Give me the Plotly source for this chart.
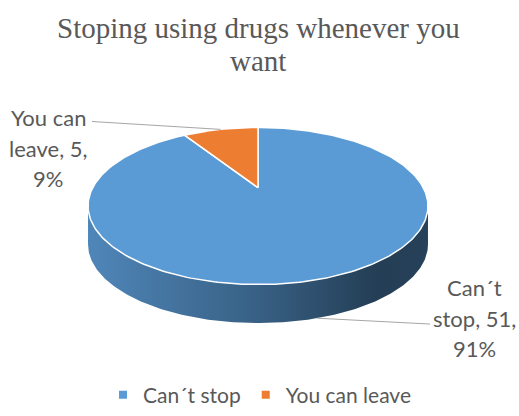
import numpy as np
import textwrap
import plotly.graph_objects as go

# ---- data ----
labels = ["Can´t stop", "You can leave"]
values = [51, 5]
colors = ["#5B9BD5", "#ED7D31"]
title_lines = ["Stoping using drugs whenever you", "want"]

# ---- geometry (pixel space, y down) ----
W, H = 519, 416
CX, CY = 258, 208          # middle of projected top ellipse
K, A, B, C = 0.2327, 165.3, 79.38, 18.0   # perspective projection params
DEPTH = 39
TXT = "#595959"

def proj(t, drop=0.0):
    u, v = np.sin(t), np.cos(t)
    d = 1 + K * v
    return CX + A * u / d, CY - (B * v + C) / d + drop

def shade(hexcol, f):
    r, g, b = int(hexcol[1:3], 16), int(hexcol[3:5], 16), int(hexcol[5:7], 16)
    return f"rgb({int(r*f)},{int(g*f)},{int(b*f)})"

total = sum(values)
fr = np.array(values) / total
cum = np.concatenate([[0], np.cumsum(fr)])

fig = go.Figure()

# side wall (front visible part)
vis0, vis1 = np.pi / 2 + np.arcsin(K), 1.5 * np.pi - np.arcsin(K)
for i in range(len(values)):
    t0, t1 = 2 * np.pi * cum[i], 2 * np.pi * cum[i + 1]
    a0, a1 = max(t0, vis0), min(t1, vis1)
    if a1 <= a0:
        continue
    ts = np.linspace(a0, a1, 200)
    xt, yt = proj(ts)
    xb, yb = proj(ts[::-1], DEPTH)
    fig.add_trace(go.Scatter(
        x=np.concatenate([xt, xb, xt[:1]]), y=np.concatenate([yt, yb, yt[:1]]),
        mode="lines", fill="toself", line=dict(width=0),
        fillgradient=dict(type="horizontal", colorscale=[
            [0, shade(colors[i], 0.87)], [0.5, shade(colors[i], 0.62)],
            [0.85, shade(colors[i], 0.40)], [1, shade(colors[i], 0.42)]]),
        hoverinfo="skip", showlegend=False))

# top face slices
for i in range(len(values)):
    t0, t1 = 2 * np.pi * cum[i], 2 * np.pi * cum[i + 1]
    ts = np.linspace(t0, t1, 300)
    x, y = proj(ts)
    cx0, cy0 = CX, CY - C
    fig.add_trace(go.Scatter(
        x=np.concatenate([[cx0], x, [cx0]]), y=np.concatenate([[cy0], y, [cy0]]),
        mode="lines", fill="toself", fillcolor=colors[i],
        line=dict(color="white", width=1.5),
        hoverinfo="skip", showlegend=False))

annotations = []
# title
for j, line in enumerate(title_lines):
    annotations.append(dict(x=258, y=28 + 34 * j, text=line, xref="x", yref="y",
                            showarrow=False, xanchor="center", yanchor="middle",
                            font=dict(family="Liberation Serif", size=29, color=TXT)))

# labels with leader lines
label_pos = {0: dict(tx=474, ty=291, lx=430, ly=328),
             1: dict(tx=48, ty=119, lx=92, ly=123)}
for i in range(len(values)):
    tm = 2 * np.pi * (cum[i] + cum[i + 1]) / 2
    front = np.cos(tm) < -K
    ex, ey = proj(tm, DEPTH if front else 0)
    p = label_pos[i]
    fig.add_trace(go.Scatter(x=[p["lx"], ex], y=[p["ly"], ey], mode="lines",
                             line=dict(color="#A6A6A6", width=1),
                             hoverinfo="skip", showlegend=False))
    txt = f"{labels[i]}, {values[i]}, {round(fr[i]*100)}%"
    for j, line in enumerate(textwrap.wrap(txt, 9)):
        annotations.append(dict(x=p["tx"], y=p["ty"] + 31 * j, text=line,
                                xref="x", yref="y", showarrow=False,
                                xanchor="center", yanchor="middle",
                                font=dict(family="Lato", size=22, color=TXT)))

# legend entries
for i in range(len(values)):
    fig.add_trace(go.Scatter(x=[None], y=[None], mode="markers", name=labels[i],
                             marker=dict(symbol="square", size=8, color=colors[i])))

fig.update_layout(
    width=W, height=H, margin=dict(l=0, r=0, t=0, b=0),
    paper_bgcolor="white", plot_bgcolor="white",
    xaxis=dict(range=[0, W], visible=False, fixedrange=True),
    yaxis=dict(range=[H, 0], visible=False, fixedrange=True),
    legend=dict(orientation="h", x=0.5, xanchor="center", y=1 - 400 / H, yanchor="middle",
                font=dict(family="Lato", size=21, color=TXT), itemwidth=30,
                bgcolor="rgba(0,0,0,0)"),
    annotations=annotations,
    showlegend=True,
)

fig.write_html("out.html")
